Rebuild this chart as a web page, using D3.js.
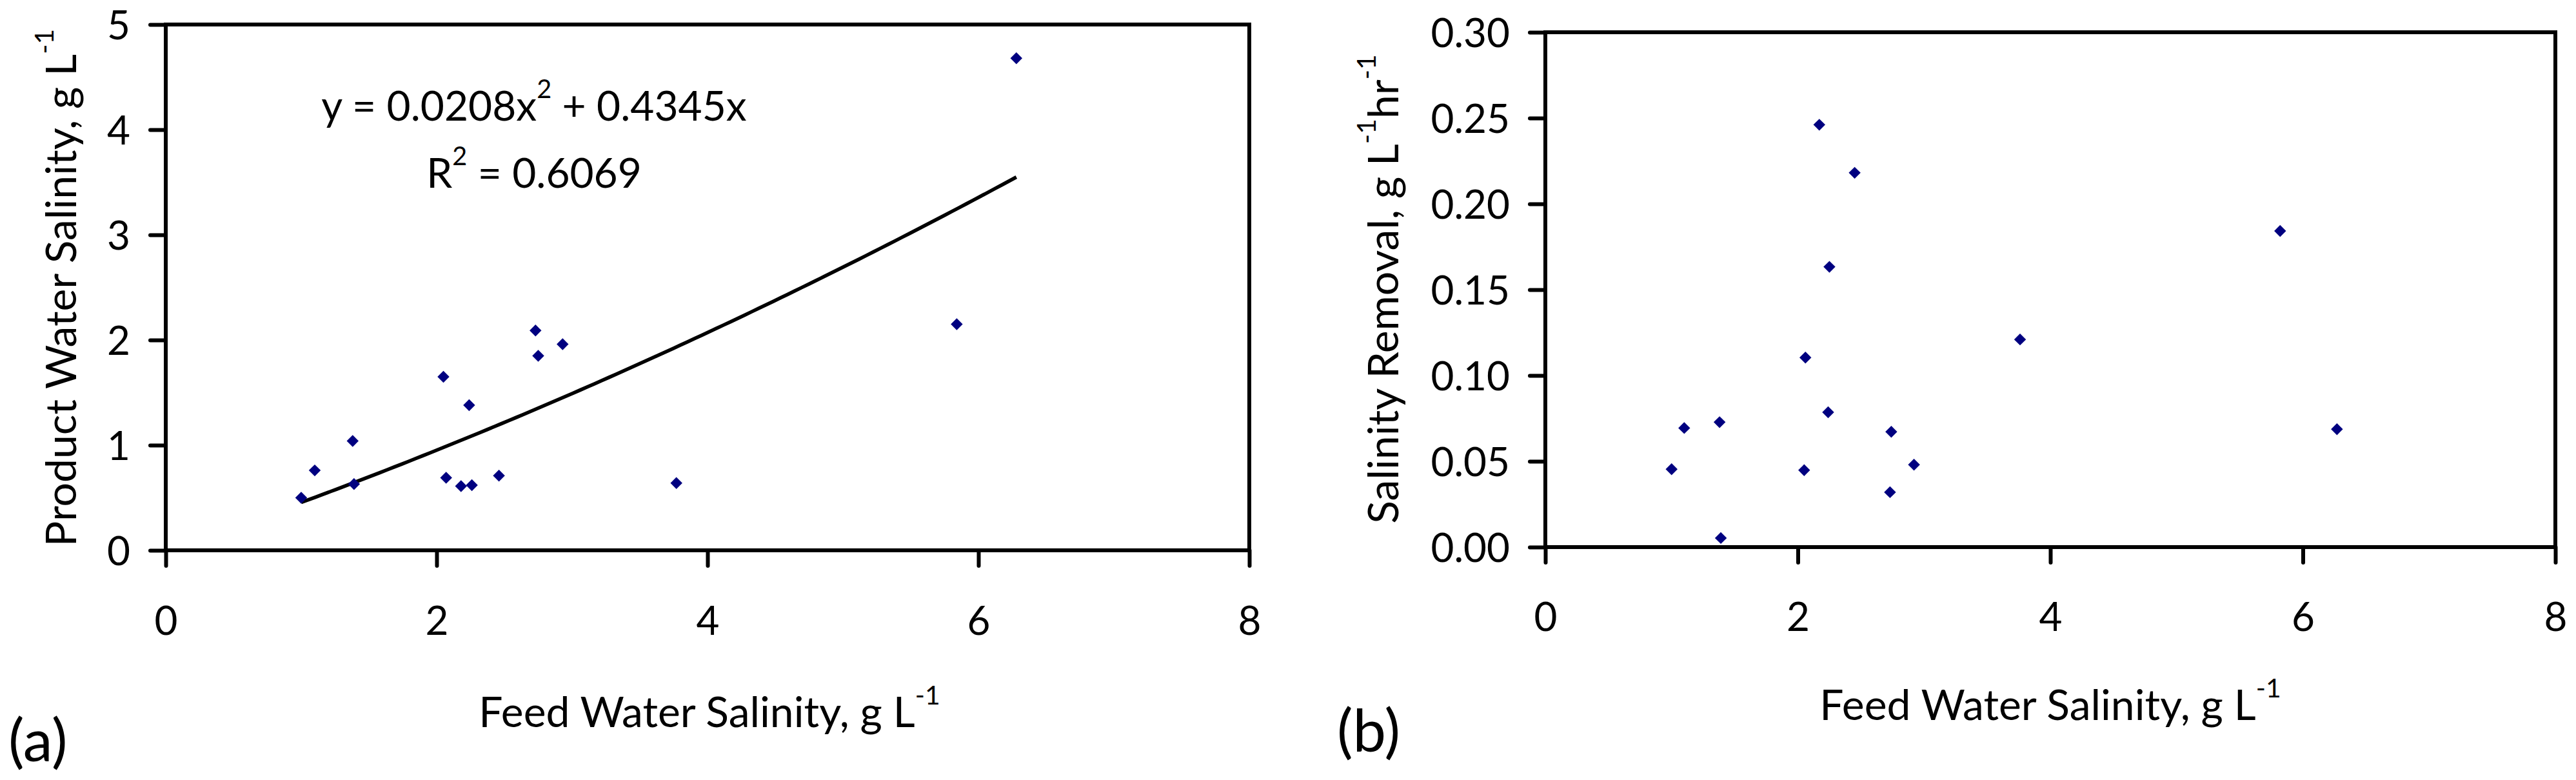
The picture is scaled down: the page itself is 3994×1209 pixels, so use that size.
<!DOCTYPE html>
<html>
<head>
<meta charset="utf-8">
<script src="https://cdn.jsdelivr.net/npm/d3@7"></script>
<style>
  body { margin: 0; background: #fff; }
  svg { display: block; font-family: Lato, "Open Sans", sans-serif; }
  .tick text { font-size: 62px; fill: #000; }
</style>
</head>
<body>
<svg width="3994" height="1209"></svg>
<script>
// panel (a): feed vs product salinity
var feedA = [1.00, 1.10, 1.38, 1.39, 2.05, 2.07, 2.18, 2.26, 2.24, 2.46, 2.73, 2.75, 2.93, 3.77, 5.84, 6.28];
var productA = [0.50, 0.76, 1.04, 0.63, 1.65, 0.69, 0.61, 0.62, 1.38, 0.71, 2.09, 1.85, 1.96, 0.64, 2.15, 4.68];

// panel (b): feed salinity vs salinity removal
var feedB = [1.00, 1.10, 1.38, 1.39, 2.05, 2.06, 2.17, 2.24, 2.25, 2.45, 2.73, 2.74, 2.92, 3.76, 5.82, 6.27];
var removalB = [0.0454, 0.0694, 0.0728, 0.0053, 0.0448, 0.1104, 0.2461, 0.0786, 0.1633, 0.2181, 0.0320, 0.0672, 0.0480, 0.1210, 0.1842, 0.0687];

// trendline y = c2*x^2 + c1*x
var fitC2 = 0.0208, fitC1 = 0.4345, fitR2 = 0.6069;

var xTicks = [0, 2, 4, 6, 8];
var yTicksA = [0, 1, 2, 3, 4, 5];
var yTicksB = [0, 0.05, 0.10, 0.15, 0.20, 0.25, 0.30];

var svg = d3.select("svg");
svg.append("rect").attr("width", 3994).attr("height", 1209).attr("fill", "#fff");

var navy = "#000080";
var supShift = 35;
var labelSize = 66;

// text with superscript parts: [[string, isSup], ...]
function richText(sel, parts, size) {
    var prevSup = false;
    parts.forEach(function (p) {
        var t = sel.append("tspan").text(p[0]);
        if (p[1]) {
            t.attr("font-size", size * 0.62).attr("dy", -supShift);
        } else if (prevSup) {
            t.attr("dy", supShift);
        }
        prevSup = p[1];
    });
    return sel;
}

function panel(opt) {
    var x = d3.scaleLinear().domain([0, 8]).range([opt.left, opt.right]);
    var y = d3.scaleLinear().domain(opt.yDomain).range([opt.bottom, opt.top]);

    var g = svg.append("g");

    // axes
    var xa = g.append("g")
        .attr("transform", "translate(0," + opt.bottom + ")")
        .call(d3.axisBottom(x).tickValues(xTicks).tickSize(24).tickPadding(opt.xPad));
    var ya = g.append("g")
        .attr("transform", "translate(" + opt.left + ",0)")
        .call(d3.axisLeft(y).tickValues(opt.yTicks).tickSize(24).tickPadding(31).tickFormat(opt.fmt));
    [xa, ya].forEach(function (a) {
        a.select(".domain").remove();
        a.selectAll("line").attr("stroke", "#000").attr("stroke-width", 6).attr("stroke-linecap", "round");
        a.selectAll("text").attr("font-family", "Lato").style("font-size", "62px");
    });
    ya.selectAll("text").attr("dy", "0.36em");

    // frame
    g.append("rect")
        .attr("x", opt.left).attr("y", opt.top)
        .attr("width", opt.right - opt.left).attr("height", opt.bottom - opt.top)
        .attr("fill", "none").attr("stroke", "#000").attr("stroke-width", 6);

    return { g: g, x: x, y: y };
}

function diamonds(p, xs, ys) {
    p.g.selectAll(".pt")
      .data(xs.map(function (d, i) { return [d, ys[i]]; }))
      .enter().append("path")
        .attr("class", "pt")
        .attr("d", d3.symbol(d3.symbolSquare, 170)())
        .attr("fill", navy)
        .attr("transform", function (d) {
            return "translate(" + p.x(d[0]) + "," + p.y(d[1]) + ") rotate(45)";
        });
}

// ---- (a)
var pa = panel({ left: 257, right: 1937, top: 38, bottom: 853, yDomain: [0, 5],
                 yTicks: yTicksA, fmt: d3.format("d"), xPad: 63 });

var xmin = d3.min(feedA), xmax = d3.max(feedA);
var curve = d3.range(0, 101).map(function (i) {
    var xv = xmin + (xmax - xmin) * i / 100;
    return [xv, fitC2 * xv * xv + fitC1 * xv];
});
pa.g.append("path")
    .datum(curve)
    .attr("fill", "none").attr("stroke", "#000").attr("stroke-width", 5.5)
    .attr("d", d3.line().x(function (d) { return pa.x(d[0]); }).y(function (d) { return pa.y(d[1]); }));

diamonds(pa, feedA, productA);

richText(pa.g.append("text").attr("x", 828).attr("y", 187).attr("text-anchor", "middle").attr("font-size", 64),
    [["y = " + fitC2 + "x", false], ["2", true], [" + " + fitC1 + "x", false]], 64);
richText(pa.g.append("text").attr("x", 828).attr("y", 291).attr("text-anchor", "middle").attr("font-size", 64),
    [["R", false], ["2", true], [" = " + fitR2, false]], 64);

richText(pa.g.append("text").attr("transform", "translate(118,446) rotate(-90)")
    .attr("text-anchor", "middle").attr("font-size", labelSize),
    [["Product Water Salinity, g L", false], ["-1", true]], labelSize);
richText(pa.g.append("text").attr("x", 1100).attr("y", 1127)
    .attr("text-anchor", "middle").attr("font-size", labelSize),
    [["Feed Water Salinity, g L", false], ["-1", true]], labelSize);
pa.g.append("text").attr("x", 13).attr("y", 1180).attr("font-size", 92).text("(a)");

// ---- (b)
var pb = panel({ left: 2396, right: 3962, top: 50, bottom: 848, yDomain: [0, 0.30],
                 yTicks: yTicksB, fmt: d3.format(".2f"), xPad: 62 });

diamonds(pb, feedB, removalB);

richText(pb.g.append("text").attr("transform", "translate(2168,448) rotate(-90)")
    .attr("text-anchor", "middle").attr("font-size", labelSize),
    [["Salinity Removal, g L", false], ["-1", true], ["hr", false], ["-1", true]], labelSize);
richText(pb.g.append("text").attr("x", 3179).attr("y", 1116)
    .attr("text-anchor", "middle").attr("font-size", labelSize),
    [["Feed Water Salinity, g L", false], ["-1", true]], labelSize);
pb.g.append("text").attr("x", 2073).attr("y", 1165).attr("font-size", 92).text("(b)");
</script>
</body>
</html>
